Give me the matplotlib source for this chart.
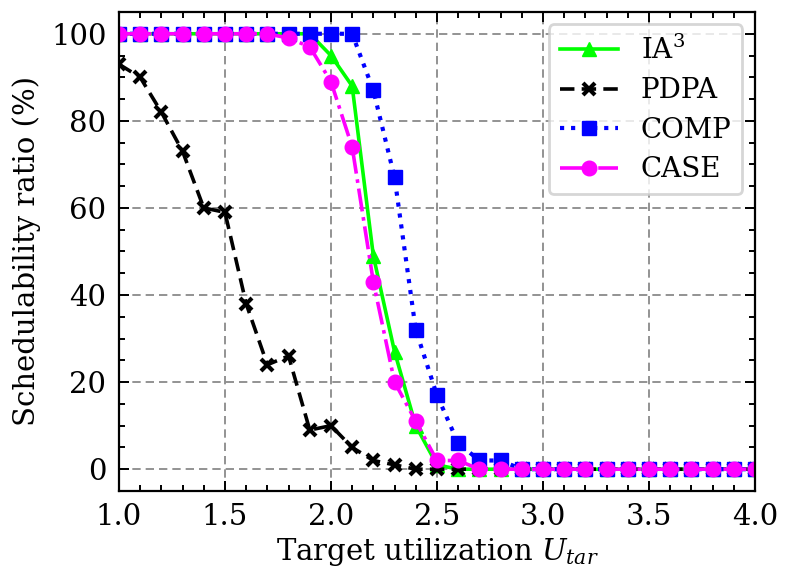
import matplotlib
matplotlib.use("Agg")
import matplotlib.pyplot as plt
import numpy as np
from matplotlib.ticker import MultipleLocator

# target utilization, 1.0 .. 4.0 step 0.1
u_tar = [1.0, 1.1, 1.2, 1.3, 1.4, 1.5, 1.6, 1.7, 1.8, 1.9,
         2.0, 2.1, 2.2, 2.3, 2.4, 2.5, 2.6, 2.7, 2.8, 2.9,
         3.0, 3.1, 3.2, 3.3, 3.4, 3.5, 3.6, 3.7, 3.8, 3.9, 4.0]

ia3 = [100, 100, 100, 100, 100, 100, 100, 100, 100, 100,
       95, 88, 49, 27, 10, 1, 0, 0, 0, 0,
       0, 0, 0, 0, 0, 0, 0, 0, 0, 0, 0]

pdpa = [93, 90, 82, 73, 60, 59, 38, 24, 26, 9,
        10, 5, 2, 1, 0, 0, 0, 0, 0, 0,
        0, 0, 0, 0, 0, 0, 0, 0, 0, 0, 0]

comp = [100, 100, 100, 100, 100, 100, 100, 100, 100, 100,
        100, 100, 87, 67, 32, 17, 6, 2, 2, 0,
        0, 0, 0, 0, 0, 0, 0, 0, 0, 0, 0]

case = [100, 100, 100, 100, 100, 100, 100, 100, 99, 97,
        89, 74, 43, 20, 11, 2, 2, 0, 0, 0,
        0, 0, 0, 0, 0, 0, 0, 0, 0, 0, 0]

plt.rcParams["font.family"] = "DejaVu Serif"
plt.rcParams["mathtext.fontset"] = "dejavuserif"
plt.rcParams["font.size"] = 21

fig = plt.figure(figsize=(7.9, 5.88), dpi=100)
ax = fig.add_axes([0.1506, 0.165, 0.805, 0.8146])

ax.plot(u_tar, ia3, color="#00ff00", linestyle="-", marker="^",
        markersize=10.5, linewidth=2.6, label="IA$^3$")
ax.plot(u_tar, pdpa, color="black", linestyle=(0, (4, 2)), marker="x",
        markersize=9, markeredgewidth=3, linewidth=2.6, label="PDPA")
ax.plot(u_tar, comp, color="blue", linestyle=":", marker="s",
        markersize=9.5, linewidth=3, label="COMP")
ax.plot(u_tar, case, color="magenta", linestyle="-.", marker="o",
        markersize=10.5, linewidth=2.6, label="CASE")

ax.set_xlim(1.0, 4.0)
ax.set_ylim(-5, 105)
ax.xaxis.set_major_locator(MultipleLocator(0.5))
ax.xaxis.set_minor_locator(MultipleLocator(0.1))
ax.yaxis.set_major_locator(MultipleLocator(20))
ax.yaxis.set_minor_locator(MultipleLocator(5))
ax.tick_params(which="both", direction="in", top=True, right=True, width=1.4)
ax.tick_params(which="major", length=7, pad=9)
ax.tick_params(which="minor", length=4.5)
for sp in ax.spines.values():
    sp.set_linewidth(1.6)

ax.grid(True, which="major", linestyle=(0, (5, 3)), color="gray", linewidth=1.2)

ax.set_xlabel("Target utilization $U_{tar}$", labelpad=3)
ax.set_ylabel("Schedulability ratio (%)", labelpad=7)

leg = ax.legend(loc="upper right", fancybox=True, framealpha=0.8,
                edgecolor="#cccccc", fontsize=20, handlelength=2.1,
                borderaxespad=0.45, labelspacing=0.45)
leg.get_frame().set_linewidth(2)

fig.savefig("out.png", dpi=100)
